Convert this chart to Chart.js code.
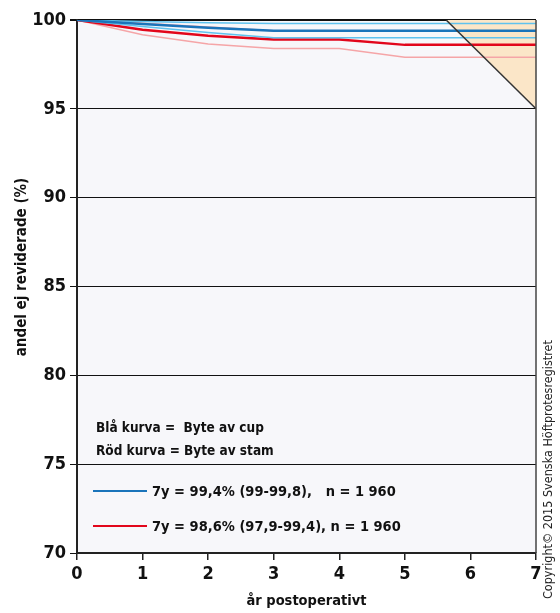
<!DOCTYPE html>
<html>
<head>
<meta charset="utf-8">
<script src="https://cdn.jsdelivr.net/npm/chart.js@4.4.1/dist/chart.umd.min.js"></script>
<style>
html,body{margin:0;padding:0;background:#fff;}
#wrap{width:560px;height:613px;position:relative;}
</style>
</head>
<body>
<div id="wrap"><canvas id="c" width="560" height="613"></canvas></div>
<script>
// ---- data ----
const years = [0, 1, 2, 3, 4, 5, 6, 7];
const cupMain  = [100, 99.78, 99.57, 99.4, 99.4, 99.4, 99.4, 99.4];
const cupUpper = [100, 99.92, 99.85, 99.8, 99.8, 99.8, 99.8, 99.8];
const cupLower = [100, 99.64, 99.3, 99.0, 99.0, 99.0, 99.0, 99.0];
const stamMain  = [100, 99.45, 99.12, 98.9, 98.9, 98.6, 98.6, 98.6];
const stamUpper = [100, 99.82, 99.6, 99.4, 99.4, 99.4, 99.4, 99.4];
const stamLower = [100, 99.17, 98.65, 98.4, 98.4, 97.9, 97.9, 97.9];
const zoneX = [5.63, 7];
const zoneY = [100, 95];
const yTicks = [70, 75, 80, 85, 90, 95, 100];
const xTicks = [0, 1, 2, 3, 4, 5, 6, 7];
const legendCup = "7y = 99,4% (99-99,8),   n = 1 960";
const legendStam = "7y = 98,6% (97,9-99,4), n = 1 960";
const noteLines = ["Blå kurva =  Byte av cup", "Röd kurva = Byte av stam"];
const yTitle = "andel ej reviderade (%)";
const xTitle = "år postoperativt";
const copyright = "Copyright© 2015 Svenska Höftprotesregistret";

const FONT = "'Liberation Sans Narrow','DejaVu Sans Condensed','Arial Narrow',sans-serif";
const DARKBLUE = '#1a74ba', LIGHTBLUE = '#5fc2ee', RED = '#e2061b', PINK = '#f5a5a7';

const pts = (xs, ys) => xs.map((x, i) => ({x: x, y: ys[i]}));

const bgPlugin = {
  id: 'bg',
  beforeDraw(chart) {
    const {ctx, chartArea: a} = chart;
    ctx.save();
    ctx.fillStyle = '#f7f7fa';
    ctx.fillRect(a.left, a.top, a.right - a.left, a.bottom - a.top);
    ctx.restore();
  },
  afterDraw(chart) {
    const {ctx, chartArea: a} = chart;
    ctx.save();
    ctx.strokeStyle = '#444';
    ctx.lineWidth = 1.5;
    ctx.beginPath();
    ctx.moveTo(a.right, a.top);
    ctx.lineTo(a.right, a.bottom);
    ctx.stroke();
    ctx.fillStyle = '#111';
    ctx.font = 'bold 15px ' + FONT;
    ctx.textAlign = 'center';
    ctx.textBaseline = 'middle';
    ctx.translate(22, 267);
    ctx.rotate(-Math.PI / 2);
    ctx.fillText(yTitle, 0, 0);
    ctx.restore();
    ctx.save();
    ctx.fillStyle = '#222';
    ctx.font = '12.5px ' + FONT;
    ctx.textAlign = 'left';
    ctx.textBaseline = 'middle';
    ctx.translate(549, 599);
    ctx.rotate(-Math.PI / 2);
    ctx.fillText(copyright, 0, 0);
    ctx.restore();
    ctx.save();
    ctx.fillStyle = '#111';
    ctx.font = 'bold 13.5px ' + FONT;
    ctx.textAlign = 'left';
    ctx.textBaseline = 'alphabetic';
    const lx = a.left + 16;
    ctx.fillText(noteLines[0], lx + 3, 432);
    ctx.fillText(noteLines[1], lx + 3, 455);
    const items = [
      {color: DARKBLUE, text: legendCup, y: 491},
      {color: RED, text: legendStam, y: 526}
    ];
    ctx.font = 'bold 14.5px ' + FONT;
    items.forEach(it => {
      ctx.strokeStyle = it.color;
      ctx.lineWidth = 2;
      ctx.beginPath();
      ctx.moveTo(lx, it.y);
      ctx.lineTo(lx + 54, it.y);
      ctx.stroke();
      ctx.textBaseline = 'middle';
      ctx.fillText(it.text, lx + 59, it.y + 1);
    });
    ctx.restore();
  }
};

const line = (label, data, color, width, order) => ({
  label, data, borderColor: color, borderWidth: width, pointRadius: 0,
  fill: false, tension: 0, order
});

new Chart(document.getElementById('c'), {
  type: 'line',
  data: {
    datasets: [
      {label: 'zone', data: pts(zoneX, zoneY), borderWidth: 0, borderColor: 'rgba(0,0,0,0)',
       backgroundColor: '#fbe6c8', pointRadius: 0, fill: {target: {value: 100}}, order: 20},
      {label: 'zoneEdge', data: pts(zoneX, zoneY), borderColor: '#333', borderWidth: 1.5,
       pointRadius: 0, fill: false, order: 0},
      line('cupMain', pts(years, cupMain), DARKBLUE, 2.5, 1),
      line('cupUpper', pts(years, cupUpper), LIGHTBLUE, 1.5, 2),
      line('cupLower', pts(years, cupLower), LIGHTBLUE, 1.5, 2),
      line('stamMain', pts(years, stamMain), RED, 2.5, 3),
      line('stamUpper', pts(years, stamUpper), PINK, 1.5, 4),
      line('stamLower', pts(years, stamLower), PINK, 1.5, 4)
    ]
  },
  options: {
    responsive: false,
    animation: false,
    events: [],
    layout: {padding: {top: 20, right: 24, left: 0, bottom: 0}},
    plugins: {legend: {display: false}, tooltip: {enabled: false}},
    scales: {
      x: {
        type: 'linear', min: 0, max: 7,
        afterBuildTicks(s) { s.ticks = xTicks.map(v => ({value: v})); },
        afterFit(s) { s.height = 60; },
        ticks: {color: '#111', font: {family: FONT, size: 18, weight: 'bold'}, padding: 4, maxRotation: 0},
        grid: {drawOnChartArea: false, drawTicks: true, tickLength: 7, color: '#222', lineWidth: 1.5},
        border: {display: true, color: '#222', width: 2},
        title: {display: true, text: xTitle, color: '#111', font: {family: FONT, size: 14.5, weight: 'bold'}, padding: {top: 0, bottom: 3}}
      },
      y: {
        type: 'linear', min: 70, max: 100,
        afterBuildTicks(s) { s.ticks = yTicks.map(v => ({value: v})); },
        afterFit(s) { s.width = 77; },
        ticks: {color: '#111', font: {family: FONT, size: 18, weight: 'bold'}, padding: 4},
        grid: {color: '#111', lineWidth: c => (c.tick && c.tick.value === 100 ? 2 : 1), tickLength: 7},
        border: {display: true, color: '#222', width: 2}
      }
    }
  },
  plugins: [bgPlugin]
});
</script>
</body>
</html>
